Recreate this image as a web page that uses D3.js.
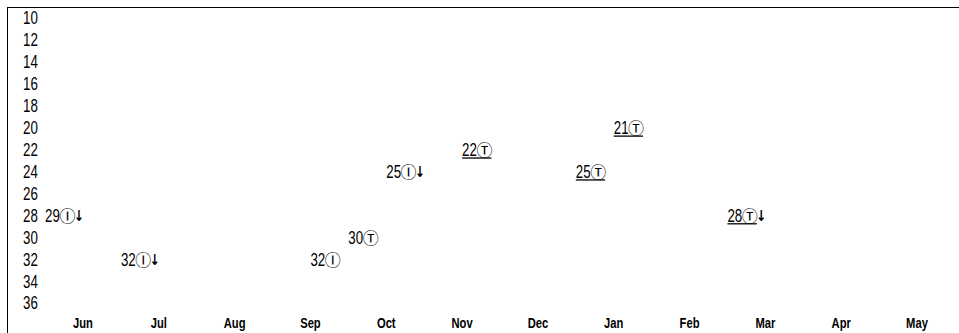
<!DOCTYPE html>
<html><head><meta charset="utf-8">
<script src="https://cdn.jsdelivr.net/npm/d3@7"></script>
<style>
body{margin:0;background:#fff;}
svg{display:block;}
.lab{font-family:"Liberation Sans",Arial,sans-serif;font-size:18px;fill:#000;}
.mon{font-family:"Liberation Sans",Arial,sans-serif;font-size:14px;font-weight:bold;fill:#000;}
.sym{font-family:"Noto Sans CJK JP","DejaVu Sans";fill:#000;}
.arr{font-family:"DejaVu Sans";fill:#000;}
</style></head>
<body><svg id="c" width="959" height="333"></svg>
<script>
// ---- data ----
const months = ["Jun","Jul","Aug","Sep","Oct","Nov","Dec","Jan","Feb","Mar","Apr","May"];
const yTicks = [10,12,14,16,18,20,22,24,26,28,30,32,34,36];
const dates  = ["May 16","Jun 16","Sep 1","Sep 16","Oct 1","Nov 1","Dec 16","Jan 1","Feb 16"];
const values = [29,32,32,30,25,22,25,21,28];
const marks  = ["Ⓘ","Ⓘ","Ⓘ","Ⓣ","Ⓘ","Ⓣ","Ⓣ","Ⓣ","Ⓣ"];
const falling= [true,true,false,false,true,false,false,false,true];
const underlined=[false,false,false,false,false,true,true,true,true];

const svg = d3.select("#c");
const W = 959, H = 333;
const SX = 0.74, SM = 0.8;

function slot(s){
  const [m,d] = s.split(" ");
  let i = months.indexOf(m);
  if (m === "May") i = -1; // the May before June
  return i*2 + (+d > 1 ? 1 : 0);
}
const x = d3.scaleLinear().domain([0,22]).range([83,917]);
const y = d3.scaleLinear().domain([10,36]).range([18,303]);

// frame
svg.append("line").attr("x1",7).attr("x2",W).attr("y1",7.5).attr("y2",7.5).attr("stroke","#000");
svg.append("line").attr("x1",7.5).attr("x2",7.5).attr("y1",7).attr("y2",H).attr("stroke","#000");

// y axis labels
svg.append("g").selectAll("text").data(yTicks).join("text")
  .attr("class","lab")
  .attr("transform",d=>`translate(23,${y(d)}) scale(${SX},1)`).attr("dy","0.36em")
  .text(d=>d);

// month labels
svg.append("g").selectAll("text").data(months).join("text")
  .attr("class","mon").attr("text-anchor","middle")
  .attr("transform",(d,i)=>`translate(${x(i*2)},323) scale(${SM},1)`).attr("dy","0.36em").text(d=>d);

// data labels
const pts = dates.map((d,i)=>({d, v:values[i], m:marks[i], f:falling[i], u:underlined[i]}));
const g = svg.append("g");
pts.forEach(p=>{
  const row = Math.floor(p.v/2)*2;
  const x0 = x(slot(p.d)), yc = y(row);
  const num = g.append("text").attr("class","lab")
    .attr("transform",`translate(${x0},${yc}) scale(${SX},1)`).attr("dy","0.36em").text(p.v);
  let cx = x0 + num.node().getComputedTextLength()*SX - 0.5;
  const sym = g.append("text").attr("class","sym").attr("font-size","16px")
    .attr("x",cx).attr("y",yc+1).attr("dy","0.36em").text(p.m);
  cx += sym.node().getComputedTextLength() - 1;
  if (p.u) g.append("line").attr("x1",x0).attr("x2",cx).attr("y1",yc+8.5).attr("y2",yc+8.5)
    .attr("stroke","#000").attr("stroke-width",1.3);
  if (p.f) g.append("text").attr("class","arr").attr("font-weight","bold").attr("font-size","15px")
    .attr("transform",`translate(${cx-0.5},${yc}) scale(0.8,1)`).attr("dy","0.36em").text("↓");
});
</script></body></html>
